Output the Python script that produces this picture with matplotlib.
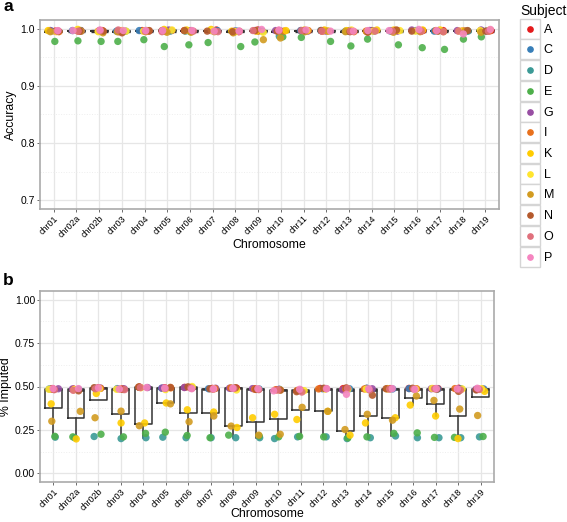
import numpy as np
import matplotlib
matplotlib.use("Agg")
import matplotlib.pyplot as plt
from matplotlib.lines import Line2D
from matplotlib.patches import Rectangle
from matplotlib.legend_handler import HandlerBase
from matplotlib.ticker import MultipleLocator

plt.rcParams['font.family'] = ['Liberation Sans', 'DejaVu Sans']

chromosomes = ["chr01", "chr02a", "chr02b", "chr03", "chr04", "chr05", "chr06", "chr07",
               "chr08", "chr09", "chr10", "chr11", "chr12", "chr13", "chr14", "chr15",
               "chr16", "chr17", "chr18", "chr19"]
subjects = ["A", "C", "D", "E", "G", "I", "K", "L", "M", "N", "O", "P"]
colors = ["#E41A1C", "#377EB8", "#3B9A96", "#4DAF4A", "#984EA3", "#E8701C",
          "#FFCC00", "#FFE52E", "#D29B20", "#B4592C", "#E0707C", "#F585C0"]

# Panel a: accuracy
acc_A = [0.996, 0.997, 0.997, 0.995, 0.997, 0.997, 0.997, 0.998, 0.995, 0.998, 0.997, 0.997, 0.997, 0.996, 0.997, 0.997, 0.997, 0.997, 0.996, 0.997]
acc_C = [0.997, 0.997, 0.996, 0.996, 0.997, 0.997, 0.996, 0.997, 0.996, 0.997, 0.996, 0.997, 0.997, 0.996, 0.996, 0.997, 0.997, 0.996, 0.996, 0.997]
acc_D = [0.996, 0.997, 0.996, 0.996, 0.997, 0.996, 0.996, 0.997, 0.996, 0.996, 0.987, 0.996, 0.997, 0.996, 0.997, 0.996, 0.996, 0.997, 0.996, 0.996]
acc_E = [0.978, 0.979, 0.978, 0.978, 0.981, 0.969, 0.972, 0.976, 0.969, 0.977, 0.986, 0.985, 0.978, 0.970, 0.982, 0.972, 0.967, 0.964, 0.982, 0.986]
acc_G = [0.997, 0.996, 0.997, 0.996, 0.996, 0.998, 0.997, 0.997, 0.996, 0.997, 0.997, 0.996, 0.996, 0.997, 0.997, 0.996, 0.998, 0.997, 0.997, 0.998]
acc_I = [0.995, 0.996, 0.996, 0.995, 0.996, 0.996, 0.996, 0.996, 0.995, 0.996, 0.996, 0.997, 0.996, 0.995, 0.996, 0.997, 0.996, 0.997, 0.996, 0.996]
acc_K = [0.997, 0.999, 0.996, 0.997, 0.997, 0.999, 0.998, 0.999, 0.996, 0.996, 0.997, 0.998, 0.998, 0.997, 0.998, 0.998, 0.998, 0.998, 0.996, 0.998]
acc_L = [0.995, 0.998, 0.995, 0.996, 0.996, 0.998, 0.997, 0.997, 0.995, 0.994, 0.996, 0.997, 0.996, 0.998, 0.996, 0.997, 0.996, 0.997, 0.996, 0.997]
acc_M = [0.995, 0.996, 0.993, 0.995, 0.995, 0.994, 0.994, 0.995, 0.993, 0.981, 0.984, 0.995, 0.996, 0.995, 0.995, 0.994, 0.995, 0.995, 0.996, 0.994]
acc_N = [0.996, 0.996, 0.996, 0.993, 0.997, 0.997, 0.997, 0.996, 0.995, 0.997, 0.996, 0.997, 0.997, 0.995, 0.994, 0.998, 0.996, 0.996, 0.997, 0.996]
acc_O = [0.996, 0.996, 0.997, 0.998, 0.996, 0.995, 0.996, 0.995, 0.996, 0.997, 0.997, 0.997, 0.996, 0.996, 0.996, 0.996, 0.996, 0.995, 0.996, 0.996]
acc_P = [0.997, 0.997, 0.998, 0.997, 0.997, 0.997, 0.997, 0.996, 0.996, 0.999, 0.998, 0.998, 0.996, 0.996, 0.997, 0.997, 0.999, 0.997, 0.991, 0.999]

# Panel b: fraction imputed
imp_A = [0.488, 0.485, 0.492, 0.486, 0.497, 0.493, 0.495, 0.489, 0.491, 0.487, 0.482, 0.478, 0.489, 0.488, 0.489, 0.488, 0.489, 0.488, 0.490, 0.485]
imp_C = [0.486, 0.484, 0.490, 0.488, 0.495, 0.490, 0.493, 0.487, 0.489, 0.486, 0.484, 0.476, 0.487, 0.487, 0.490, 0.486, 0.488, 0.486, 0.487, 0.486]
imp_D = [0.208, 0.205, 0.212, 0.200, 0.205, 0.208, 0.205, 0.205, 0.205, 0.205, 0.200, 0.210, 0.210, 0.200, 0.205, 0.215, 0.205, 0.205, 0.205, 0.210]
imp_E = [0.213, 0.210, 0.225, 0.210, 0.230, 0.237, 0.218, 0.205, 0.220, 0.215, 0.210, 0.213, 0.210, 0.204, 0.210, 0.230, 0.233, 0.207, 0.207, 0.212]
imp_G = [0.487, 0.486, 0.491, 0.487, 0.494, 0.491, 0.494, 0.490, 0.490, 0.488, 0.483, 0.477, 0.488, 0.480, 0.487, 0.487, 0.486, 0.487, 0.486, 0.484]
imp_I = [0.485, 0.483, 0.489, 0.485, 0.496, 0.492, 0.492, 0.488, 0.492, 0.485, 0.481, 0.477, 0.486, 0.487, 0.486, 0.488, 0.487, 0.488, 0.488, 0.485]
imp_K = [0.400, 0.198, 0.460, 0.290, 0.290, 0.405, 0.366, 0.353, 0.264, 0.320, 0.340, 0.310, 0.357, 0.220, 0.290, 0.320, 0.393, 0.330, 0.200, 0.472]
imp_L = [0.484, 0.482, 0.488, 0.484, 0.493, 0.482, 0.500, 0.486, 0.480, 0.484, 0.480, 0.476, 0.485, 0.485, 0.485, 0.486, 0.485, 0.489, 0.486, 0.487]
imp_M = [0.300, 0.357, 0.320, 0.358, 0.274, 0.400, 0.297, 0.330, 0.272, 0.220, 0.225, 0.380, 0.357, 0.252, 0.340, 0.306, 0.445, 0.420, 0.370, 0.333]
imp_N = [0.483, 0.475, 0.493, 0.483, 0.497, 0.495, 0.498, 0.487, 0.493, 0.483, 0.479, 0.470, 0.490, 0.492, 0.450, 0.487, 0.490, 0.485, 0.472, 0.480]
imp_O = [0.482, 0.478, 0.487, 0.482, 0.494, 0.489, 0.491, 0.484, 0.489, 0.482, 0.480, 0.468, 0.488, 0.489, 0.480, 0.485, 0.485, 0.487, 0.480, 0.483]
imp_P = [0.488, 0.488, 0.492, 0.485, 0.494, 0.491, 0.487, 0.487, 0.490, 0.487, 0.475, 0.484, 0.487, 0.455, 0.487, 0.488, 0.484, 0.488, 0.486, 0.490]

acc = np.array([acc_A, acc_C, acc_D, acc_E, acc_G, acc_I, acc_K, acc_L, acc_M, acc_N, acc_O, acc_P])
imp = np.array([imp_A, imp_C, imp_D, imp_E, imp_G, imp_I, imp_K, imp_L, imp_M, imp_N, imp_O, imp_P])

W, H = 567, 522
fig = plt.figure(figsize=(W / 100, H / 100), dpi=100)

def px_axes(l, t, r, b):
    return fig.add_axes([l / W, 1 - b / H, (r - l) / W, (b - t) / H])

AX_A = (40, 20, 499, 209)
AX_B = (40, 291, 494, 482)
ax_a = px_axes(*AX_A)
ax_b = px_axes(*AX_B)

rng = np.random.default_rng(7)
jit = rng.uniform(-0.25, 0.25, size=acc.shape)
jit2 = rng.uniform(-0.22, 0.22, size=imp.shape)

x = np.arange(len(chromosomes))
box_col = "#333333"

def style(ax, box, ylim, yticks, ylabels, minor, ylabel, xlab_off):
    l, t, r, b = box
    ax.set_xlim(-0.6, len(chromosomes) - 0.4)
    ax.set_ylim(*ylim)
    ax.set_yticks(yticks)
    ax.set_yticklabels(ylabels)
    ax.yaxis.set_minor_locator(MultipleLocator(minor))
    ax.set_xticks(x)
    ax.set_xticklabels(chromosomes, rotation=45, ha='right', va='top',
                       rotation_mode='anchor', fontsize=6.4)
    ax.tick_params(axis='both', length=2, width=0.6, color='#555555', pad=1.5)
    ax.tick_params(axis='y', labelsize=7.5)
    ax.tick_params(axis='y', which='minor', length=0)
    ax.grid(True, which='major', color='#E6E6E6', lw=0.9)
    ax.grid(True, which='minor', axis='y', color='#EEEEEE', lw=0.7, ls=':')
    ax.set_axisbelow(True)
    for s in ax.spines.values():
        s.set_color('#AAAAAA')
        s.set_linewidth(1.2)
    ax.set_ylabel(ylabel, fontsize=8.8, va='center')
    ax.set_xlabel("Chromosome", fontsize=8.8, va='center')
    ax.yaxis.set_label_coords((11 - l) / (r - l), 0.5)
    ax.xaxis.set_label_coords(0.5, -xlab_off / (b - t))

def draw(ax, data, jitter, med_lw):
    ax.boxplot([data[:, j] for j in range(data.shape[1])], positions=x, widths=0.75,
               showfliers=False, showcaps=False, patch_artist=False,
               boxprops=dict(color=box_col, lw=1.1),
               whiskerprops=dict(color=box_col, lw=1.1),
               medianprops=dict(color=box_col, lw=med_lw),
               manage_ticks=False, zorder=2)
    for i, s in enumerate(subjects):
        ax.scatter(x + jitter[i], data[i], s=28, color=colors[i], alpha=0.9,
                   edgecolors='none', zorder=3)

draw(ax_a, acc, jit, 2.4)
draw(ax_b, imp, jit2, 1.8)
style(ax_a, AX_A, (0.6845, 1.0155), [0.7, 0.8, 0.9, 1.0], ["0.7", "0.8", "0.9", "1.0"], 0.05, "Accuracy", 36)
style(ax_b, AX_B, (-0.05, 1.05), [0, 0.25, 0.5, 0.75, 1.0], ["0.00", "0.25", "0.50", "0.75", "1.00"], 0.125, "% Imputed", 32)
ax_b.yaxis.set_label_coords((6 - AX_B[0]) / (AX_B[2] - AX_B[0]), 0.5)

fig.text(3 / W, 1 - 11 / H, "a", fontsize=12.5, fontweight='bold', va='baseline')
fig.text(3 / W, 1 - 285 / H, "b", fontsize=12.5, fontweight='bold', va='baseline')


class BoxDot(HandlerBase):
    def create_artists(self, legend, orig_handle, xdescent, ydescent, width, height, fontsize, trans):
        r = Rectangle((-xdescent, -ydescent), width, height, facecolor='white',
                      edgecolor='#D5D5D5', lw=1.0, transform=trans)
        m = Line2D([-xdescent + width / 2], [-ydescent + height / 2], marker='o', ms=3.8,
                   color=orig_handle.get_color(), ls='none', transform=trans)
        return [r, m]

handles = [Line2D([], [], color=c, marker='o', ls='none') for c in colors]
leg = fig.legend(handles, subjects, loc='upper left', bbox_to_anchor=(520 / W, 1 - 4 / H),
                 frameon=False, fontsize=9, title="Subject", title_fontsize=10,
                 handler_map={Line2D: BoxDot()}, handlelength=1.6, handleheight=2.08,
                 labelspacing=0.06, handletextpad=0.3, borderpad=0, borderaxespad=0,
                 alignment='left')

fig.savefig("out.png", dpi=100)
